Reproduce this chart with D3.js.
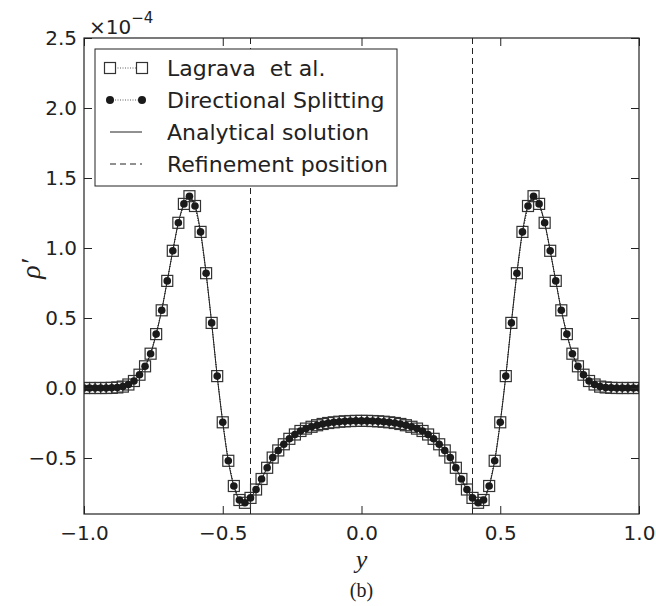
<!DOCTYPE html>
<meta charset="utf-8">
<style>
  body { margin: 0; background: #fff; }
  text { font-family: "DejaVu Sans", sans-serif; fill: #222; }
</style>
<body>
<script src="https://cdn.jsdelivr.net/npm/d3@7"></script>
<script>

var width = 656,
    height = 606;

// grid positions y, spacing 0.02
var yGrid = [
  -1.00, -0.98, -0.96, -0.94, -0.92, -0.90, -0.88, -0.86, -0.84, -0.82,
  -0.80, -0.78, -0.76, -0.74, -0.72, -0.70, -0.68, -0.66, -0.64, -0.62,
  -0.60, -0.58, -0.56, -0.54, -0.52, -0.50, -0.48, -0.46, -0.44, -0.42,
  -0.40, -0.38, -0.36, -0.34, -0.32, -0.30, -0.28, -0.26, -0.24, -0.22,
  -0.20, -0.18, -0.16, -0.14, -0.12, -0.10, -0.08, -0.06, -0.04, -0.02,
   0.00,
   0.02,  0.04,  0.06,  0.08,  0.10,  0.12,  0.14,  0.16,  0.18,  0.20,
   0.22,  0.24,  0.26,  0.28,  0.30,  0.32,  0.34,  0.36,  0.38,  0.40,
   0.42,  0.44,  0.46,  0.48,  0.50,  0.52,  0.54,  0.56,  0.58,  0.60,
   0.62,  0.64,  0.66,  0.68,  0.70,  0.72,  0.74,  0.76,  0.78,  0.80,
   0.82,  0.84,  0.86,  0.88,  0.90,  0.92,  0.94,  0.96,  0.98,  1.00
];

// rho' in units of 1e-4
var rhoLagrava = [
  0, 0, 0, 0, 0, 0.001, 0.004, 0.01, 0.025, 0.05,
  0.095, 0.155, 0.245, 0.385, 0.555, 0.765, 0.98, 1.18, 1.315, 1.37,
  1.30, 1.115, 0.82, 0.465, 0.085, -0.245, -0.52, -0.70, -0.80, -0.82,
  -0.785, -0.725, -0.65, -0.57, -0.497, -0.446, -0.402, -0.363, -0.332, -0.307,
  -0.29, -0.277, -0.266, -0.257, -0.25, -0.245, -0.241, -0.238, -0.236, -0.235,
  -0.235,
  -0.235, -0.236, -0.238, -0.241, -0.245, -0.25, -0.257, -0.266, -0.277, -0.29,
  -0.307, -0.332, -0.363, -0.402, -0.446, -0.497, -0.57, -0.65, -0.725, -0.785,
  -0.82, -0.80, -0.70, -0.52, -0.245, 0.085, 0.465, 0.82, 1.115, 1.30,
  1.37, 1.315, 1.18, 0.98, 0.765, 0.555, 0.385, 0.245, 0.155, 0.095,
  0.05, 0.025, 0.01, 0.004, 0.001, 0, 0, 0, 0, 0
];

var rhoSplitting = [
  0, 0, 0, 0, 0, 0.001, 0.004, 0.01, 0.025, 0.05,
  0.095, 0.155, 0.245, 0.385, 0.555, 0.765, 0.98, 1.18, 1.315, 1.37,
  1.30, 1.115, 0.82, 0.465, 0.085, -0.245, -0.52, -0.70, -0.80, -0.82,
  -0.785, -0.725, -0.65, -0.57, -0.497, -0.446, -0.402, -0.363, -0.332, -0.307,
  -0.29, -0.277, -0.266, -0.257, -0.25, -0.245, -0.241, -0.238, -0.236, -0.235,
  -0.235,
  -0.235, -0.236, -0.238, -0.241, -0.245, -0.25, -0.257, -0.266, -0.277, -0.29,
  -0.307, -0.332, -0.363, -0.402, -0.446, -0.497, -0.57, -0.65, -0.725, -0.785,
  -0.82, -0.80, -0.70, -0.52, -0.245, 0.085, 0.465, 0.82, 1.115, 1.30,
  1.37, 1.315, 1.18, 0.98, 0.765, 0.555, 0.385, 0.245, 0.155, 0.095,
  0.05, 0.025, 0.01, 0.004, 0.001, 0, 0, 0, 0, 0
];

var refinement = [-0.4, 0.4];
var xTicks = [-1.0, -0.5, 0.0, 0.5, 1.0];
var yTicks = [-0.5, 0.0, 0.5, 1.0, 1.5, 2.0, 2.5];
var legendLabels = ["Lagrava\u00a0\u00a0et al.", "Directional Splitting", "Analytical solution", "Refinement position"];

var x = d3.scaleLinear().domain([-1, 1]).range([84, 639]);
var y = d3.scaleLinear().domain([-0.9, 2.5]).range([514, 38]);
var fmt = d3.format(".1f");

var svg = d3.select("body").append("svg")
    .attr("width", width)
    .attr("height", height);

svg.append("clipPath").attr("id", "clip")
  .append("rect")
    .attr("x", x(-1)).attr("y", y(2.5))
    .attr("width", x(1) - x(-1)).attr("height", y(-0.9) - y(2.5));

var plot = svg.append("g").attr("clip-path", "url(#clip)");

// refinement lines
plot.selectAll(".refine")
  .data(refinement)
  .enter().append("line")
    .attr("x1", d => x(d)).attr("x2", d => x(d))
    .attr("y1", y(2.5)).attr("y2", y(-0.9))
    .attr("stroke", "#222").attr("stroke-width", 1)
    .attr("stroke-dasharray", "6,4");

var pts = function(vals) {
  return yGrid.map((g, i) => ({g: g, v: vals[i]}));
};

var dotted = d3.line().x(d => x(d.g)).y(d => y(d.v));

// Lagrava squares
plot.append("path")
    .attr("d", dotted(pts(rhoLagrava)))
    .attr("fill", "none").attr("stroke", "#333")
    .attr("stroke-width", 0.8).attr("stroke-dasharray", "1,1.5");

var sq = 11;
plot.selectAll(".sq")
  .data(pts(rhoLagrava))
  .enter().append("rect")
    .attr("x", d => x(d.g) - sq / 2)
    .attr("y", d => y(d.v) - sq / 2)
    .attr("width", sq).attr("height", sq)
    .attr("fill", "none")
    .attr("stroke", "#333").attr("stroke-width", 1.2);

// analytical solution
plot.append("path")
    .attr("d", d3.line().curve(d3.curveCatmullRom).x(d => x(d.g)).y(d => y(d.v))(pts(rhoSplitting)))
    .attr("fill", "none").attr("stroke", "#222").attr("stroke-width", 1);

// directional splitting circles
plot.append("path")
    .attr("d", dotted(pts(rhoSplitting)))
    .attr("fill", "none").attr("stroke", "#222")
    .attr("stroke-width", 0.8).attr("stroke-dasharray", "1,1.5");

plot.selectAll(".dot")
  .data(pts(rhoSplitting))
  .enter().append("circle")
    .attr("cx", d => x(d.g))
    .attr("cy", d => y(d.v))
    .attr("r", 3.8)
    .attr("fill", "#1a1a1a");

// axes, ticks pointing inward
var axB = svg.append("g").attr("transform", "translate(0," + y(-0.9) + ")")
    .call(d3.axisBottom(x).tickValues(xTicks).tickFormat(fmt).tickSizeInner(-8).tickSizeOuter(0).tickPadding(12));
var axL = svg.append("g").attr("transform", "translate(" + x(-1) + ",0)")
    .call(d3.axisLeft(y).tickValues(yTicks).tickFormat(fmt).tickSizeInner(-8).tickSizeOuter(0).tickPadding(7));
var axT = svg.append("g").attr("transform", "translate(0," + y(2.5) + ")")
    .call(d3.axisTop(x).tickValues(xTicks).tickFormat("").tickSizeInner(-8).tickSizeOuter(0));
var axR = svg.append("g").attr("transform", "translate(" + x(1) + ",0)")
    .call(d3.axisRight(y).tickValues(yTicks).tickFormat("").tickSizeInner(-8).tickSizeOuter(0));

[axB, axL, axT, axR].forEach(function(a) {
  a.select(".domain").remove();
  a.selectAll("line").attr("stroke", "#222");
  a.selectAll("text").attr("font-size", 20).attr("font-family", "DejaVu Sans").attr("fill", "#222");
});

svg.append("rect")
    .attr("x", x(-1)).attr("y", y(2.5))
    .attr("width", x(1) - x(-1)).attr("height", y(-0.9) - y(2.5))
    .attr("fill", "none").attr("stroke", "#222").attr("stroke-width", 1.2);

// legend
var lg = svg.append("g");
lg.append("rect")
    .attr("x", 95).attr("y", 49).attr("width", 302).attr("height", 137)
    .attr("fill", "#fff").attr("stroke", "#222").attr("stroke-width", 1);

var rows = [68, 100, 132, 164];
lg.selectAll(".lt")
  .data(legendLabels)
  .enter().append("text")
    .attr("x", 167).attr("y", (d, i) => rows[i])
    .attr("dy", "0.36em")
    .attr("font-size", 22)
    .text(d => d);

// handles
lg.append("line").attr("x1", 110).attr("x2", 142).attr("y1", rows[0]).attr("y2", rows[0])
    .attr("stroke", "#333").attr("stroke-width", 0.8).attr("stroke-dasharray", "1,1.5");
[110, 142].forEach(function(cx) {
  lg.append("rect").attr("x", cx - 5.5).attr("y", rows[0] - 5.5).attr("width", 11).attr("height", 11)
      .attr("fill", "#fff").attr("stroke", "#333").attr("stroke-width", 1.2);
});
lg.append("line").attr("x1", 110).attr("x2", 142).attr("y1", rows[1]).attr("y2", rows[1])
    .attr("stroke", "#333").attr("stroke-width", 0.8).attr("stroke-dasharray", "1,1.5");
[110, 142].forEach(function(cx) {
  lg.append("circle").attr("cx", cx).attr("cy", rows[1]).attr("r", 4).attr("fill", "#1a1a1a");
});
lg.append("line").attr("x1", 110).attr("x2", 142).attr("y1", rows[2]).attr("y2", rows[2])
    .attr("stroke", "#222").attr("stroke-width", 1);
lg.append("line").attr("x1", 110).attr("x2", 142).attr("y1", rows[3]).attr("y2", rows[3])
    .attr("stroke", "#222").attr("stroke-width", 1).attr("stroke-dasharray", "6,4");

// offset text
var off = svg.append("text").attr("x", 89).attr("y", 34).attr("font-size", 20);
off.append("tspan").text("\u00d710");
off.append("tspan").attr("dy", -11).attr("font-size", 15).text("\u22124");

// axis labels
svg.append("text")
    .attr("x", x(0)).attr("y", 568)
    .attr("text-anchor", "middle")
    .style("font-family", "'Liberation Serif', serif").style("font-style", "italic")
    .attr("font-size", 26)
    .text("y");

svg.append("text")
    .attr("transform", "translate(40," + y(0.85) + ") rotate(-90)")
    .attr("text-anchor", "middle")
    .style("font-family", "'Liberation Serif', serif").style("font-style", "italic")
    .attr("font-size", 28)
    .text("\u03c1\u2032");

svg.append("text")
    .attr("x", x(0)).attr("y", 597)
    .attr("text-anchor", "middle")
    .style("font-family", "'Liberation Serif', serif")
    .attr("font-size", 20)
    .text("(b)");

</script>
